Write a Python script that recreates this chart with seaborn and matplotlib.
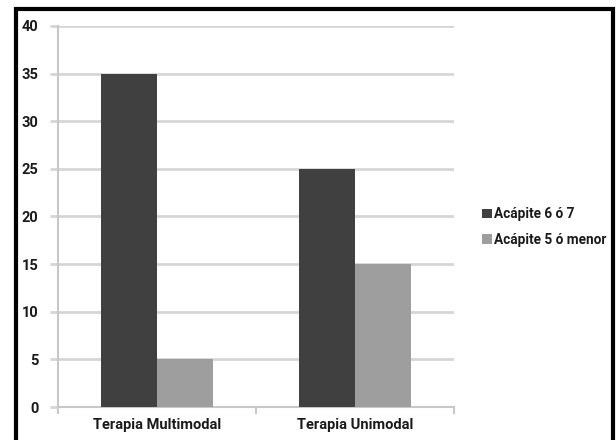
import matplotlib
matplotlib.use("Agg")
import matplotlib.pyplot as plt
import seaborn as sns
import pandas as pd
from matplotlib.patches import Rectangle

categories = ["Terapia Multimodal", "Terapia Unimodal"]
series_names = ["Acápite 6 ó 7", "Acápite 5 ó menor"]
acapite_6_7 = [35, 25]
acapite_5_menor = [5, 15]
y_ticks = [0, 5, 10, 15, 20, 25, 30, 35, 40]

df = pd.DataFrame({
    "categoria": categories * 2,
    "serie": [series_names[0]] * 2 + [series_names[1]] * 2,
    "valor": acapite_6_7 + acapite_5_menor,
})

sns.set_theme(style="white")
plt.rcParams["font.family"] = ["Roboto", "DejaVu Sans"]

fig = plt.figure(figsize=(6.16, 4.40), dpi=100)
ax = fig.add_axes([58 / 616, 1 - 407 / 440, (454 - 58) / 616, (407 - 26) / 440])

palette = ["#404040", "#9e9e9e"]
sns.barplot(data=df, x="categoria", y="valor", hue="serie", palette=palette,
            width=0.57, saturation=1, ax=ax, legend=True, zorder=3,
            linewidth=0, edgecolor="none")

ax.set_ylim(0, 40)
ax.set_yticks(y_ticks)
ax.set_xlim(-0.5, 1.5)
ax.set_xlabel("")
ax.set_ylabel("")
ax.grid(axis="y", color="#d6d6d6", linewidth=2, zorder=0)
ax.set_axisbelow(True)

for side in ["top", "right"]:
    ax.spines[side].set_visible(False)
for side in ["left", "bottom"]:
    ax.spines[side].set_color("#c8c8c8")
    ax.spines[side].set_linewidth(1.5)

ax.tick_params(axis="y", length=6, width=2, color="#d6d6d6", pad=8,
               labelsize=10.5, left=True)
ax.tick_params(axis="x", which="major", length=0, pad=8, labelsize=10.5)
ax.set_xticks([-0.5, 0.5, 1.5], minor=True)
ax.tick_params(axis="x", which="minor", length=5, width=1.5, color="#c8c8c8", bottom=True)
for lab in ax.get_yticklabels() + ax.get_xticklabels():
    lab.set_fontweight("bold")
    lab.set_color("#1a1a1a")

handles, labels = ax.get_legend_handles_labels()
leg = ax.legend(handles, labels, loc="center left", bbox_to_anchor=(470 / 616, 1 - 227 / 440),
                bbox_transform=fig.transFigure, frameon=False,
                handlelength=0.7, handleheight=0.7, handletextpad=0.15, labelspacing=0.85,
                prop={"weight": "bold", "size": 9.8})
for t in leg.get_texts():
    t.set_color("#1a1a1a")

# outer frame around the chart
fig.add_artist(Rectangle((15.5 / 616, -0.05), (612.5 - 15.5) / 616, 1.05 - 9.5 / 440,
                         transform=fig.transFigure, fill=False,
                         edgecolor="black", linewidth=3, clip_on=False))

fig.savefig("out.png", dpi=100)
